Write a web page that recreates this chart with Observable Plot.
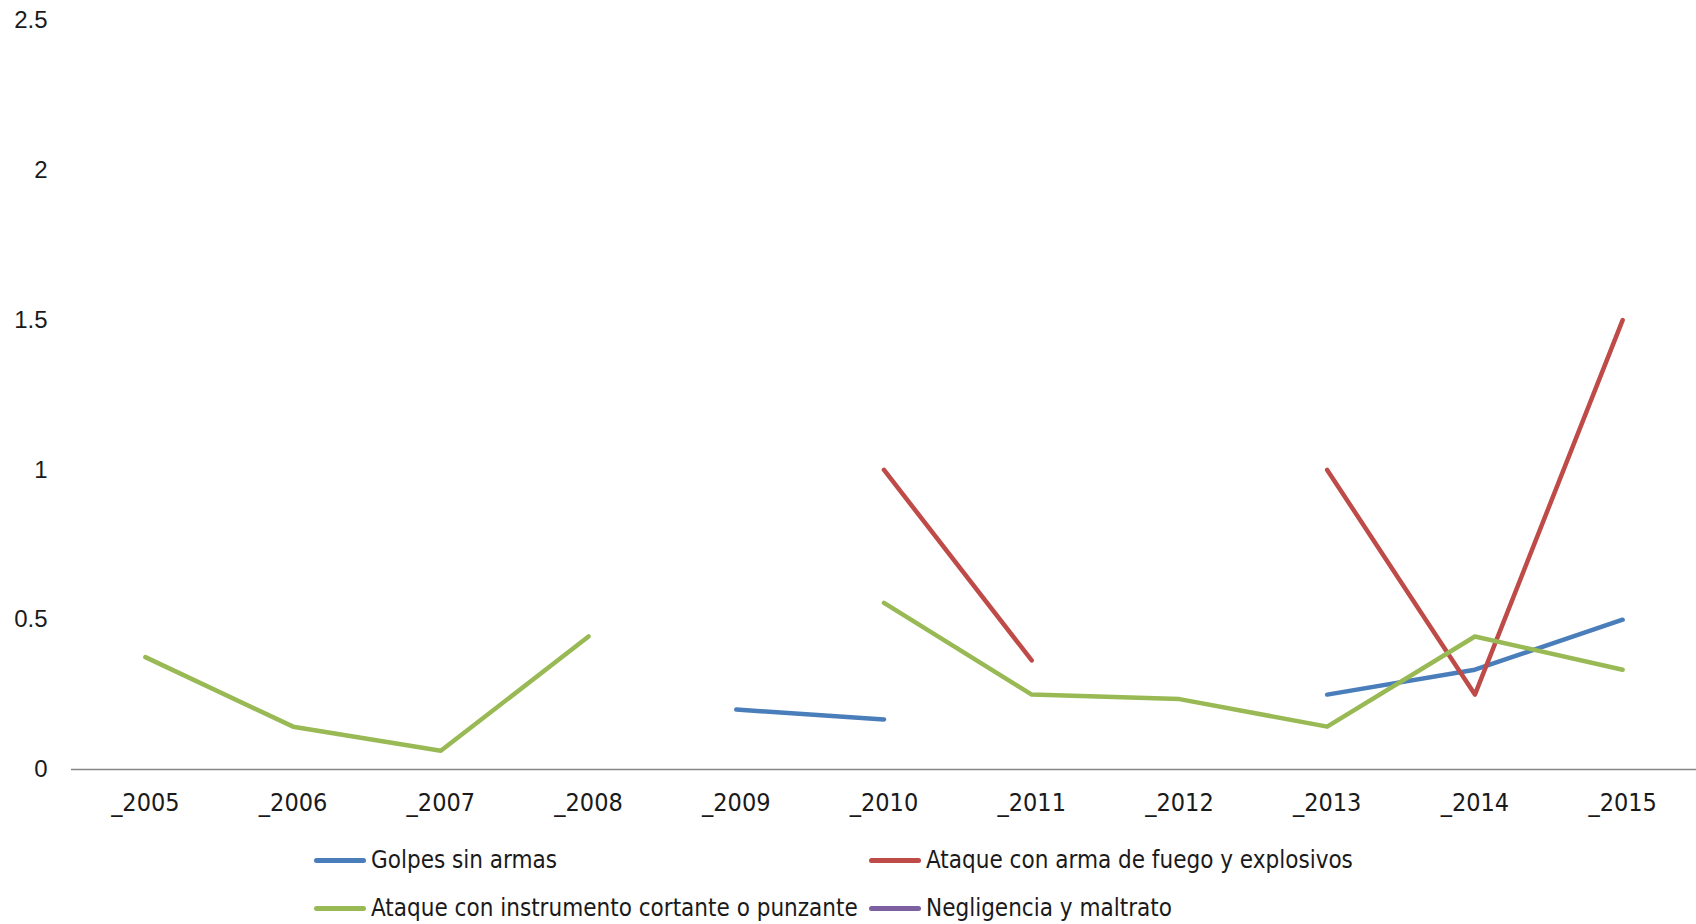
<!DOCTYPE html>
<html>
<head>
<meta charset="utf-8">
<script src="https://cdn.jsdelivr.net/npm/d3@7"></script>
<script src="https://cdn.jsdelivr.net/npm/@observablehq/plot@0.6"></script>
<style>
  html, body { margin: 0; padding: 0; background: #fff; }
  #chart { width: 1696px; }
  .legend {
    display: grid;
    grid-template-columns: 555px 555px;
    margin-left: 314px;
    margin-top: 6px;
    font-family: "Liberation Sans Narrow", "DejaVu Sans Condensed", sans-serif;
    font-size: 24px;
    color: #1a1a1a;
  }
  .legend .item { display: flex; align-items: center; height: 48px; white-space: nowrap; }
  .legend .sw { width: 52px; height: 5px; border-radius: 3px; margin-right: 5px; flex: none; }
</style>
</head>
<body>
<div id="chart"></div>
<script>
const years = [2005, 2006, 2007, 2008, 2009, 2010, 2011, 2012, 2013, 2014, 2015];
const yTicks = [0, 0.5, 1, 1.5, 2, 2.5];
const seriesNames = [
  "Golpes sin armas",
  "Ataque con arma de fuego y explosivos",
  "Ataque con instrumento cortante o punzante",
  "Negligencia y maltrato"
];
const seriesColors = ["#4A7EBB", "#BE4B48", "#98B954", "#7D60A0"];
const golpes     = [null, null, null, null, 0.2, 0.167, null, null, 0.25, 0.333, 0.5];
const fuego      = [null, null, null, null, null, 1.0, 0.364, null, 1.0, 0.25, 1.5];
const cortante   = [0.375, 0.143, 0.0625, 0.444, null, 0.556, 0.25, 0.235, 0.143, 0.444, 0.333];
const negligencia = [null, null, null, null, null, null, null, null, null, null, null];

const seriesValues = [golpes, fuego, cortante, negligencia];
const rows = [];
seriesNames.forEach((name, i) => {
  years.forEach((yr, j) => {
    const v = seriesValues[i][j];
    rows.push({series: name, year: yr, value: v == null ? undefined : v});
  });
});

const chart = Plot.plot({
  width: 1696,
  height: 830,
  marginLeft: 71,
  marginRight: 0,
  marginTop: 20,
  marginBottom: 61,
  style: {fontFamily: "'Liberation Sans Narrow', 'DejaVu Sans Condensed', sans-serif", color: "#1a1a1a", background: "#fff"},
  x: {type: "point", domain: years, padding: 0.5, round: false, label: null},
  y: {domain: [0, 2.5], label: null},
  color: {domain: seriesNames, range: seriesColors},
  marks: [
    Plot.axisY(yTicks, {tickSize: 0, tickPadding: 24, fontSize: 24, fontFamily: "'Liberation Sans', Arial, sans-serif", tickFormat: d => String(d), label: null}),
    Plot.axisX(years, {tickSize: 0, tickPadding: 24, fontSize: 25, tickFormat: d => "_" + d, label: null}),
    Plot.ruleY([0], {stroke: "#868686", strokeWidth: 1.5}),
    Plot.line(rows, {x: "year", y: "value", z: "series", stroke: "series", strokeWidth: 4.5, strokeLinecap: "round", strokeLinejoin: "round"})
  ]
});
document.getElementById("chart").appendChild(chart);

const legend = document.createElement("div");
legend.className = "legend";
seriesNames.forEach((name, i) => {
  const item = document.createElement("div");
  item.className = "item";
  const sw = document.createElement("span");
  sw.className = "sw";
  sw.style.background = seriesColors[i];
  const label = document.createElement("span");
  label.textContent = name;
  item.appendChild(sw);
  item.appendChild(label);
  legend.appendChild(item);
});
document.getElementById("chart").appendChild(legend);
</script>
</body>
</html>
